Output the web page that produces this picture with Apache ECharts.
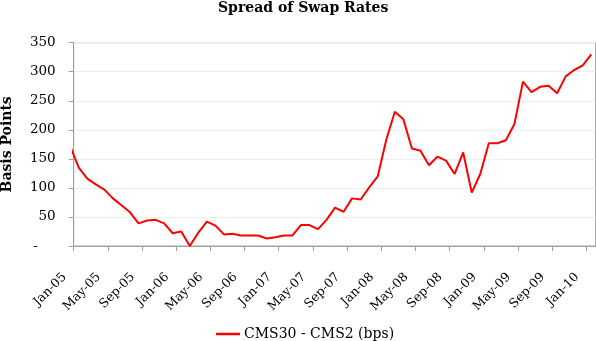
<!DOCTYPE html>
<html>
<head>
<meta charset="utf-8">
<script src="https://cdn.jsdelivr.net/npm/echarts@6/dist/echarts.min.js"></script>
<style>
  html, body { margin: 0; padding: 0; background: #ffffff; }
  #chart { width: 596px; height: 341px; }
</style>
</head>
<body>
<div id="chart"></div>
<script>
// Monthly observations of the 30y - 2y CMS spread, sampled mid-month
const months = [
  'Dec-04',
  'Jan-05', 'Feb-05', 'Mar-05', 'Apr-05', 'May-05', 'Jun-05', 'Jul-05', 'Aug-05', 'Sep-05', 'Oct-05', 'Nov-05', 'Dec-05',
  'Jan-06', 'Feb-06', 'Mar-06', 'Apr-06', 'May-06', 'Jun-06', 'Jul-06', 'Aug-06', 'Sep-06', 'Oct-06', 'Nov-06', 'Dec-06',
  'Jan-07', 'Feb-07', 'Mar-07', 'Apr-07', 'May-07', 'Jun-07', 'Jul-07', 'Aug-07', 'Sep-07', 'Oct-07', 'Nov-07', 'Dec-07',
  'Jan-08', 'Feb-08', 'Mar-08', 'Apr-08', 'May-08', 'Jun-08', 'Jul-08', 'Aug-08', 'Sep-08', 'Oct-08', 'Nov-08', 'Dec-08',
  'Jan-09', 'Feb-09', 'Mar-09', 'Apr-09', 'May-09', 'Jun-09', 'Jul-09', 'Aug-09', 'Sep-09', 'Oct-09', 'Nov-09', 'Dec-09',
  'Jan-10'
];

const spreadBps = [
  172,
  135, 116, 106, 97, 82, 70, 58, 39, 44, 45, 39, 22,
  25, 0, 23, 42, 35, 20, 21, 18, 18, 18, 13, 15,
  18, 18, 36, 36, 29, 45, 66, 59, 82, 80, 101, 120,
  183, 231, 218, 168, 164, 139, 154, 147, 124, 161, 92, 124,
  177, 177, 182, 210, 283, 265, 274, 276, 263, 292, 303, 311,
  330
];

// Axis labels, one every four months starting Jan-05
const tickLabels = [
  'Jan-05', 'May-05', 'Sep-05', 'Jan-06', 'May-06', 'Sep-06', 'Jan-07', 'May-07',
  'Sep-07', 'Jan-08', 'May-08', 'Sep-08', 'Jan-09', 'May-09', 'Sep-09', 'Jan-10'
];

const seriesName = 'CMS30 - CMS2 (bps)';

// x is measured in months from the start of Jan-05; the first entry is Dec-04
const firstMonthIndex = -1;
const samplePoint = 0.59;   // fraction of the month at which each rate is observed
const axisEndMonth = 61.08;

const points = spreadBps.map((v, i) => [firstMonthIndex + i + samplePoint, v]);

const serif = 'DejaVu Serif';
const chart = echarts.init(document.getElementById('chart'), null, { renderer: 'canvas' });

chart.setOption({
  animation: false,
  backgroundColor: '#ffffff',
  title: {
    text: 'Spread of Swap Rates',
    left: 218,
    top: 1,
    padding: 0,
    textStyle: { fontFamily: serif, fontWeight: 'bold', fontSize: 14, color: '#000000' }
  },
  legend: {
    data: [{ name: seriesName, icon: 'rect' }],
    left: 216,
    top: 327,
    padding: 0,
    itemWidth: 24,
    itemHeight: 2.5,
    itemGap: 10,
    textStyle: { fontFamily: serif, fontSize: 14, color: '#000000', padding: [0, 0, 0, -1] }
  },
  grid: {
    left: 73.7,
    right: 0.5,
    top: 42.7,
    bottom: 95,
    show: true,
    borderColor: '#a8a8a8',
    borderWidth: 1,
    containLabel: false,
    outerBoundsMode: 'none'
  },
  xAxis: {
    type: 'value',
    min: 0,
    max: axisEndMonth,
    interval: 4,
    axisLine: { show: true, lineStyle: { color: '#a0a0a0', width: 1 } },
    axisTick: { show: true, length: 5, lineStyle: { color: '#a0a0a0' } },
    splitLine: { show: false },
    axisLabel: {
      rotate: 45,
      margin: 20,
      padding: [0, 13, 0, 0],
      fontFamily: serif,
      fontSize: 12.5,
      color: '#000000',
      showMaxLabel: false,
      formatter: (v) => (v % 4 === 0 ? (tickLabels[v / 4] || '') : '')
    }
  },
  yAxis: {
    type: 'value',
    min: 0,
    max: 350,
    interval: 50,
    name: 'Basis Points',
    nameLocation: 'middle',
    nameRotate: 90,
    nameGap: 59,
    nameTextStyle: { fontFamily: serif, fontWeight: 'bold', fontSize: 14, color: '#000000' },
    axisLine: { show: true, lineStyle: { color: '#a0a0a0', width: 1 } },
    axisTick: { show: true, length: 5, lineStyle: { color: '#a0a0a0' } },
    splitLine: { show: true, lineStyle: { color: '#eeeeee', width: 1 } },
    axisLabel: {
      margin: 18,
      fontFamily: serif,
      fontSize: 13.5,
      color: '#000000',
      formatter: (v) => (v === 0 ? '{dash|-}' : String(v)),
      rich: {
        dash: { fontFamily: serif, fontSize: 13.5, color: '#000000', padding: [0, 18, 0, 0] }
      }
    }
  },
  series: [{
    name: seriesName,
    type: 'line',
    data: points,
    symbol: 'none',
    clip: true,
    lineStyle: { color: '#ff0000', width: 2 },
    itemStyle: { color: '#ff0000' }
  }]
});
</script>
</body>
</html>
